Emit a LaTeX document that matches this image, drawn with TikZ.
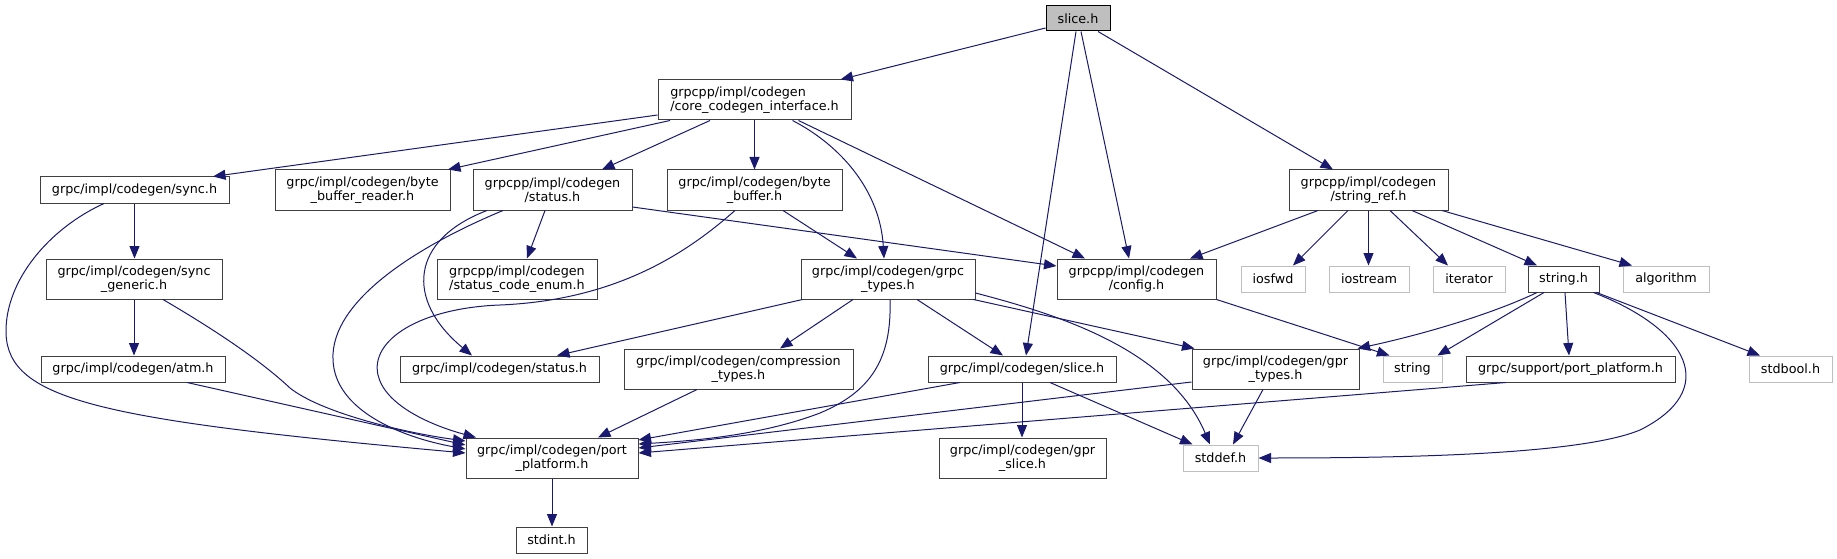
\documentclass[tikz,border=0pt]{standalone}
\usepackage{fontspec}
\setmainfont{DejaVu Sans}
\usetikzlibrary{arrows.meta}
\definecolor{edgeblue}{HTML}{191970}
\definecolor{extgray}{HTML}{BFBFBF}
\definecolor{boxline}{HTML}{404040}

\begin{document}
\begin{tikzpicture}[x=1pt,y=-1pt,
    hdr/.style 2 args={draw=boxline, line width=1pt, fill=white, inner sep=0pt, align=center,
        minimum width=#1pt, minimum height=#2pt, font=\fontsize{12.75}{14.5}\selectfont},
    ext/.style 2 args={hdr={#1}{#2}, draw=extgray},
    inc/.style={draw=edgeblue, line width=1pt, -{Triangle[length=12.5pt,width=10pt]}}]
        \path[use as bounding box, fill=white] (0,0) rectangle (1837,559);

        % file nodes
        \node[hdr={64}{25}, fill=extgray, draw=black] (slice) at (1078,18.5) {slice.h};
        \node[hdr={193}{40}, align=left] (core) at (754.5,100) {grpcpp/impl/codegen\\/core\_codegen\_interface.h};
        \node[hdr={189}{26}] (sync) at (134.5,190) {grpc/impl/codegen/sync.h};
        \node[hdr={175}{40}] (bbr) at (362.5,190) {grpc/impl/codegen/byte\\\_buffer\_reader.h};
        \node[hdr={159}{40}] (status) at (552.5,190) {grpcpp/impl/codegen\\/status.h};
        \node[hdr={175}{40}] (bbuf) at (754.5,190) {grpc/impl/codegen/byte\\\_buffer.h};
        \node[hdr={159}{40}] (sref) at (1368.5,190) {grpcpp/impl/codegen\\/string\_ref.h};
        \node[hdr={176}{40}] (syncgen) at (134,279) {grpc/impl/codegen/sync\\\_generic.h};
        \node[hdr={160}{40}] (scenum) at (517,279) {grpcpp/impl/codegen\\/status\_code\_enum.h};
        \node[hdr={174}{40}] (gtypes) at (888,279) {grpc/impl/codegen/grpc\\\_types.h};
        \node[hdr={159}{40}] (config) at (1136.5,279) {grpcpp/impl/codegen\\/config.h};
        \node[ext={64}{26}] (iosfwd) at (1273,279) {iosfwd};
        \node[ext={80}{26}] (iostream) at (1369,279) {iostream};
        \node[ext={72}{26}] (iterator) at (1469,279) {iterator};
        \node[hdr={71}{26}] (stringh) at (1563.5,279) {string.h};
        \node[ext={86}{26}] (algorithm) at (1666,279) {algorithm};
        \node[hdr={184}{26}] (atm) at (133,369) {grpc/impl/codegen/atm.h};
        \node[hdr={199}{26}] (gstatus) at (499.5,369) {grpc/impl/codegen/status.h};
        \node[hdr={229}{40}] (compr) at (738.5,369) {grpc/impl/codegen/compression\\\_types.h};
        \node[hdr={188}{26}] (cslice) at (1022,369) {grpc/impl/codegen/slice.h};
        \node[hdr={167}{40}] (gprtypes) at (1275.5,369) {grpc/impl/codegen/gpr\\\_types.h};
        \node[ext={59}{26}] (string) at (1412.5,369) {string};
        \node[hdr={209}{26}] (suppp) at (1570.5,369) {grpc/support/port\_platform.h};
        \node[ext={83}{26}] (stdbool) at (1790.5,369) {stdbool.h};
        \node[hdr={172}{40}] (pp) at (552,458) {grpc/impl/codegen/port\\\_platform.h};
        \node[hdr={167}{40}] (gprslice) at (1022.5,458) {grpc/impl/codegen/gpr\\\_slice.h};
        \node[ext={75}{26}] (stddef) at (1220.5,458) {stddef.h};
        \node[hdr={71}{26}] (stdint) at (551.5,540) {stdint.h};

        % includes of slice.h
        \draw[inc] ([yshift=-9.5]slice.west) -- ([xshift=86]core.north);
        \draw[inc] ([xshift=-2]slice.south) -- ([xshift=4]cslice.north);
        \draw[inc] ([xshift=3]slice.south) -- ([xshift=-7.5]config.north);
        \draw[inc] ([xshift=20]slice.south) -- ([xshift=-35.5]sref.north);

        % core_codegen_interface.h
        \draw[inc] ([yshift=-15]core.west) -- ([xshift=78.5]sync.north);
        \draw[inc] ([xshift=-84.5]core.south) -- ([xshift=85.5]bbr.north);
        \draw[inc] ([xshift=-44.5]core.south) -- ([xshift=49.5]status.north);
        \draw[inc] (core.south) -- (bbuf.north);
        \draw[inc] ([xshift=38]core.south) .. controls (840,145) and (880,190) .. ([xshift=-4]gtypes.north);
        \draw[inc] ([xshift=44]core.south) -- ([xshift=-51.5]config.north);

        % left column
        \draw[inc] (sync.south) -- (sync.south |- syncgen.north);
        \draw[inc] ([xshift=-30.5]sync.south) .. controls (50,228) and (5,280) .. (6,333)
            .. controls (8,400) and (100,420) .. ([yshift=5]pp.west);
        \draw[inc] (syncgen.south) -- (syncgen.south |- atm.north);
        \draw[inc] ([xshift=29]syncgen.south) .. controls (215,330) and (260,360) .. (290,388)
            .. controls (320,412) and (400,432) .. ([yshift=17]pp.west);
        \draw[inc] ([xshift=54]atm.south) -- ([yshift=13]pp.west);

        % status.h
        \draw[inc] ([xshift=-7.5]status.south) -- ([xshift=10]scenum.north);
        \draw[inc] ([xshift=-65.5]status.south) .. controls (410,240) and (405,300) .. ([xshift=-27.5]gstatus.north);
        \draw[inc] ([xshift=-49.5]status.south) .. controls (420,245) and (330,300) .. (333,360)
            .. controls (335,410) and (400,437) .. ([yshift=9]pp.west);
        \draw[inc] ([yshift=-17]status.east) -- ([yshift=13]config.west);

        % byte_buffer.h
        \draw[inc] ([xshift=28.5]bbuf.south) -- ([xshift=-31]gtypes.north);
        \draw[inc] ([xshift=-19.5]bbuf.south) .. controls (690,250) and (620,300) .. (500,305)
            .. controls (420,308) and (370,340) .. (378,375)
            .. controls (385,405) and (430,425) .. ([xshift=-76]pp.north);

        % grpc_types.h
        \draw[inc] ([xshift=2]gtypes.south west) -- ([xshift=57.5]gstatus.north);
        \draw[inc] ([xshift=-35]gtypes.south) -- ([xshift=41.5]compr.north);
        \draw[inc] ([xshift=2]gtypes.south) .. controls (892,360) and (870,392) .. (820,413)
            .. controls (760,436) and (690,441) .. ([yshift=14]pp.east);
        \draw[inc] ([xshift=29]gtypes.south) -- ([xshift=-19]cslice.north);
        \draw[inc] ([yshift=-14]gtypes.east) .. controls (1060,315) and (1170,350) .. ([xshift=-10.5]stddef.north);
        \draw[inc] ([xshift=-2]gtypes.south east) -- ([xshift=3]gprtypes.north west);

        % lower rows
        \draw[inc] ([xshift=-41.5]compr.south) -- ([xshift=46]pp.north);
        \draw[inc] ([xshift=-62]cslice.south) -- ([yshift=18]pp.east);
        \draw[inc] (cslice.south) -- (cslice.south |- gprslice.north);
        \draw[inc] ([xshift=28]cslice.south) -- ([xshift=10]stddef.north west);
        \draw[inc] ([yshift=-13]gprtypes.west) -- ([yshift=10]pp.east);
        \draw[inc] ([xshift=-12.5]gprtypes.south) -- ([xshift=12.5]stddef.north);
        \draw[inc] ([xshift=-64.5]suppp.south) -- ([yshift=5]pp.east);
        \draw[inc] (config.south east) -- ([xshift=7]string.north west);
        \draw[inc] (pp.south) -- (pp.south |- stdint.north);

        % string_ref.h
        \draw[inc] ([xshift=-50.5]sref.south) -- ([xshift=53.5]config.north);
        \draw[inc] ([xshift=-20.5]sref.south) -- ([xshift=20]iosfwd.north);
        \draw[inc] (sref.south) -- (sref.south |- iostream.north);
        \draw[inc] ([xshift=21.5]sref.south) -- ([xshift=-21]iterator.north);
        \draw[inc] ([xshift=43.5]sref.south) -- ([xshift=-26.5]stringh.north);
        \draw[inc] ([xshift=73.5]sref.south) -- ([xshift=-34]algorithm.north);

        % string.h
        \draw[inc] ([xshift=-26.5]stringh.south) .. controls (1490,315) and (1420,335) .. ([xshift=-2]gprtypes.north east);
        \draw[inc] ([xshift=-19.5]stringh.south) -- ([xshift=-5]string.north east);
        \draw[inc] ([xshift=1.5]stringh.south) -- ([xshift=-1.5]suppp.north);
        \draw[inc] ([xshift=-6]stringh.south east) .. controls (1690,330) and (1720,390) .. (1640,430)
            .. controls (1580,455) and (1400,458) .. (stddef.east);
        \draw[inc] ([xshift=-3]stringh.south east) -- ([xshift=-30.5]stdbool.north);
    \end{tikzpicture}
\end{document}
